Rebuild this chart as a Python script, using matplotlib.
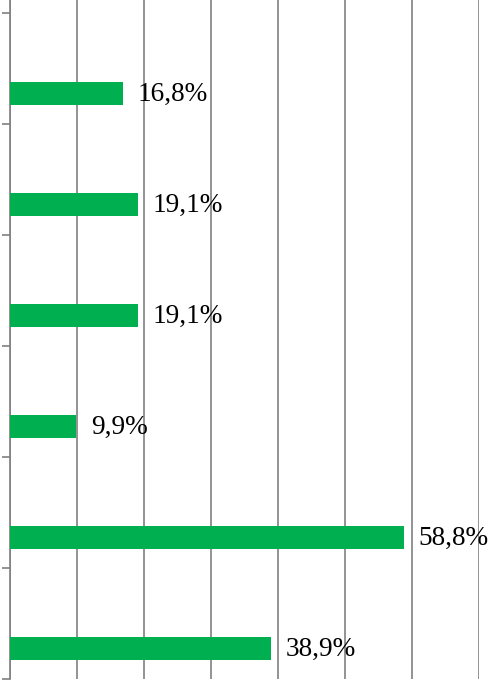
import matplotlib.pyplot as plt
import numpy as np

# dane (od dołu do góry)
kategorie = ['A', 'B', 'C', 'D', 'E', 'F']
wartosci = [38.9, 58.8, 9.9, 19.1, 19.1, 16.8]
etykiety = ['38,9%', '58,8%', '9,9%', '19,1%', '19,1%', '16,8%']

fig = plt.figure(figsize=(4.93, 6.81), dpi=100)
ax = fig.add_axes([10 / 493, 2 / 681, 469 / 493, 679 / 681])

pozycje = np.arange(len(kategorie)) - 0.225
ax.barh(pozycje, wartosci, height=0.207, color='#00B050', zorder=3)

for y, v, t in zip(pozycje, wartosci, etykiety):
    ax.annotate(t, (v, y), xytext=(10.5, -1), textcoords='offset points',
                va='center', ha='left', fontsize=19.6,
                family='Liberation Serif', color='black', zorder=4)

ax.set_xlim(0, 70)
ax.set_ylim(-0.5, 5.617)
ax.set_xticks(np.arange(0, 71, 10))
ax.set_yticks(np.arange(-0.5, 5.6, 1))
ax.set_yticklabels([])
ax.set_xticklabels([])
ax.tick_params(axis='x', length=0)
ax.tick_params(axis='y', length=6, width=1.2, color='#808080', direction='out')
ax.grid(axis='x', color='#808080', linewidth=1.2, zorder=0)

for s in ['top', 'right', 'bottom']:
    ax.spines[s].set_visible(False)
ax.spines['left'].set_color('#808080')
ax.spines['left'].set_linewidth(1.2)

fig.savefig('out.png', dpi=100)
